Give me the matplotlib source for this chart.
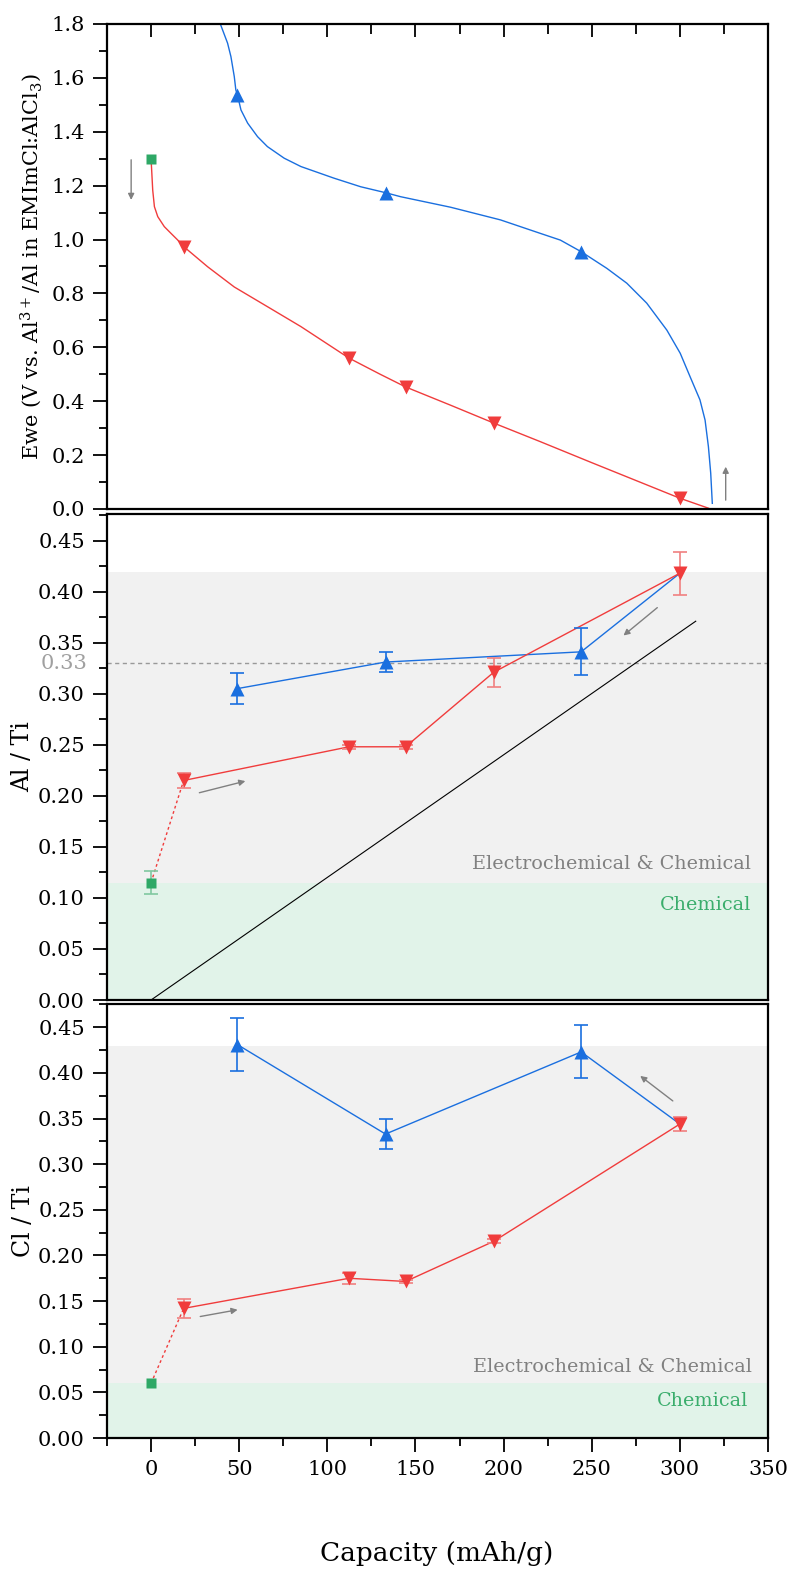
import matplotlib
matplotlib.use('Agg')
import matplotlib.pyplot as pp
from matplotlib.ticker import MultipleLocator, FormatStrFormatter

# ---- data ----
# top panel: discharge / charge curves (capacity mAh/g, Ewe V)
cap_dis = [0, 0.94, 1.9, 3.8, 7.5, 11.3, 17, 18.5, 32.1, 47.2, 66, 85, 112.3, 130, 144.4,
           170, 194.4, 220.8, 250, 300, 316.2]
ewe_dis = [1.30, 1.183, 1.122, 1.085, 1.048, 1.023, 0.986, 0.974, 0.899, 0.824, 0.751, 0.677,
           0.56, 0.50, 0.453, 0.385, 0.319, 0.25, 0.172, 0.04, 0.003]
cap_chg = [38.5, 39.3, 43.4, 45.3, 47.2, 48.1, 49, 51, 54.8, 60.4, 66, 75.5, 85, 103.7, 118.9,
           133, 141.6, 169.9, 198.2, 220.8, 232.2, 244, 258.6, 269.9, 281.2, 292.6, 300.2,
           305.8, 311.4, 314.3, 316.2, 317.5, 318.4]
ewe_chg = [1.83, 1.80, 1.729, 1.679, 1.605, 1.555, 1.537, 1.481, 1.432, 1.382, 1.345, 1.302,
           1.271, 1.228, 1.196, 1.174, 1.159, 1.12, 1.073, 1.023, 0.998, 0.955, 0.893, 0.838,
           0.764, 0.664, 0.578, 0.491, 0.405, 0.33, 0.231, 0.133, 0.021]

dis_x = [18.5, 112.3, 144.4, 194.4, 300]
chg_x = [49, 133, 244, 300]
pristine_x = [0]

ewe_dis_mark = [0.974, 0.56, 0.453, 0.319, 0.04]
ewe_chg_mark = [1.537, 1.174, 0.955]
ewe_pristine = [1.30]

# middle panel: Al / Ti
al_dis = [0.215, 0.248, 0.248, 0.321, 0.418]
al_dis_err = [0.007, 0.002, 0.002, 0.014, 0.021]
al_chg = [0.305, 0.331, 0.341, 0.418]
al_chg_err = [0.015, 0.010, 0.023, 0.0]
al_pristine = [0.115]
al_pristine_err = [0.0115]
theory_x = [0, 309]
theory_al = [0, 0.371]

# bottom panel: Cl / Ti
cl_dis = [0.142, 0.175, 0.1715, 0.2155, 0.344]
cl_dis_err = [0.0105, 0.006, 0.002, 0.002, 0.008]
cl_chg = [0.431, 0.333, 0.423, 0.344]
cl_chg_err = [0.029, 0.016, 0.029, 0.0]
cl_pristine = [0.060]

c_blue = '#1a6fdf'
c_red = '#f03c3c'
c_green = '#2ea866'
c_gray = '#808080'

pp.rcParams['font.family'] = 'DejaVu Serif'
pp.rcParams['mathtext.fontset'] = 'dejavuserif'
label_size = 15
axis_size = 17
note_size = 13.8

fig = pp.figure(figsize=(7.93, 15.78), dpi=100, facecolor='white')
W, H = 793.0, 1578.0
left = 107 / W
width = (768 - 107) / W


def axes_px(top, bottom):
    return fig.add_axes([left, 1 - bottom / H, width, (bottom - top) / H])


ax1 = axes_px(24, 509)
ax2 = axes_px(514, 1000)
ax3 = axes_px(1004, 1438)


def style(ax, ymax, ystep, yminor, fmt):
    ax.set_xlim(-25, 350)
    ax.set_ylim(0, ymax)
    for s in ax.spines.values():
        s.set_linewidth(1.6)
    ax.yaxis.set_major_locator(MultipleLocator(ystep))
    ax.yaxis.set_minor_locator(MultipleLocator(yminor))
    ax.yaxis.set_major_formatter(FormatStrFormatter(fmt))
    ax.xaxis.set_major_locator(MultipleLocator(50))
    ax.xaxis.set_minor_locator(MultipleLocator(25))
    ax.tick_params(axis='y', which='major', direction='out', length=10, width=1.3,
                   labelsize=label_size, pad=6)
    ax.tick_params(axis='y', which='minor', direction='out', length=6, width=1.3)


def arrow(ax, x0, y0, x1, y1):
    ax.annotate('', xy=(x1, y1), xytext=(x0, y0),
                arrowprops=dict(arrowstyle='-|>', color=c_gray, lw=1.0, mutation_scale=9,
                                shrinkA=0, shrinkB=0))


# ---- top: voltage profile ----
style(ax1, 1.8, 0.2, 0.1, '%.1f')
ax1.tick_params(axis='x', which='both', bottom=False, labelbottom=False, top=True,
                direction='in', width=1.3)
ax1.tick_params(axis='x', which='major', length=9)
ax1.tick_params(axis='x', which='minor', length=7)
ax1.plot(cap_chg, ewe_chg, color=c_blue, lw=1.0)
ax1.plot(cap_dis, ewe_dis, color=c_red, lw=1.0)
ax1.plot(chg_x[:3], ewe_chg_mark, '^', color=c_blue, ms=10, mec='none')
ax1.plot(dis_x, ewe_dis_mark, 'v', color=c_red, ms=10, mec='none')
ax1.plot(pristine_x, ewe_pristine, 's', color=c_green, ms=7.5, mec='none', clip_on=False)
arrow(ax1, -11.3, 1.296, -11.3, 1.147)
arrow(ax1, 326, 0.033, 326, 0.157)

# ---- middle: Al/Ti ----
style(ax2, 0.476, 0.05, 0.025, '%.2f')
ax2.tick_params(axis='x', which='both', bottom=False, top=False, labelbottom=False)
ax2.axhspan(0.115, 0.419, color='#f1f1f1', lw=0, zorder=0)
ax2.axhspan(0, 0.115, color='#e1f3e9', lw=0, zorder=0)
ax2.axhline(0.33, color='#999999', lw=1.0, ls=(0, (3, 2.5)), zorder=1)
ax2.text(-0.03, 0.33, '0.33', color='#a0a0a0', fontsize=label_size, ha='right', va='center',
         transform=ax2.get_yaxis_transform())
ax2.plot(theory_x, theory_al, color='black', lw=0.8, zorder=2)
ax2.plot([pristine_x[0], dis_x[0]], [al_pristine[0], al_dis[0]], color=c_red, lw=1.0,
         ls=(0, (2, 2)), zorder=2)
ax2.plot(chg_x, al_chg, color=c_blue, lw=1.0, zorder=3)
ax2.plot(dis_x, al_dis, color=c_red, lw=1.0, zorder=3)
ax2.errorbar(chg_x[:3], al_chg[:3], yerr=al_chg_err[:3], fmt='^', color=c_blue, ms=10, mec='none',
             ecolor=c_blue, elinewidth=1.2, capsize=5, capthick=1.2, zorder=4)
ax2.errorbar(dis_x, al_dis, yerr=al_dis_err, fmt='v', color=c_red, ms=10, mec='none',
             ecolor='#f08080', elinewidth=1.2, capsize=5, capthick=1.2, zorder=4)
ax2.errorbar(pristine_x, al_pristine, yerr=al_pristine_err, fmt='s', color=c_green, ms=7.5,
             mec='none', ecolor='#80c8a0', elinewidth=1.2, capsize=5, capthick=1.2, zorder=4)
arrow(ax2, 27.4, 0.203, 53.5, 0.2144)
arrow(ax2, 287.2, 0.3843, 268, 0.357)
ax2.text(340.6, 0.133, 'Electrochemical & Chemical', color=c_gray, fontsize=note_size,
         ha='right', va='center')
ax2.text(340.6, 0.0935, 'Chemical', color='#3aad6c', fontsize=note_size, ha='right', va='center')

# ---- bottom: Cl/Ti ----
style(ax3, 0.4755, 0.05, 0.025, '%.2f')
ax3.tick_params(axis='x', which='both', top=False, direction='out', width=1.3,
                labelsize=label_size, pad=6)
ax3.tick_params(axis='x', which='major', length=10)
ax3.tick_params(axis='x', which='minor', length=6)
ax3.axhspan(0.06, 0.43, color='#f1f1f1', lw=0, zorder=0)
ax3.axhspan(0, 0.06, color='#e1f3e9', lw=0, zorder=0)
ax3.plot([pristine_x[0], dis_x[0]], [cl_pristine[0], cl_dis[0]], color=c_red, lw=1.0,
         ls=(0, (2, 2)), zorder=2)
ax3.plot(chg_x, cl_chg, color=c_blue, lw=1.0, zorder=3)
ax3.plot(dis_x, cl_dis, color=c_red, lw=1.0, zorder=3)
ax3.errorbar(chg_x[:3], cl_chg[:3], yerr=cl_chg_err[:3], fmt='^', color=c_blue, ms=10, mec='none',
             ecolor=c_blue, elinewidth=1.2, capsize=5, capthick=1.2, zorder=4)
ax3.errorbar(dis_x, cl_dis, yerr=cl_dis_err, fmt='v', color=c_red, ms=10, mec='none',
             ecolor='#f08080', elinewidth=1.2, capsize=5, capthick=1.2, zorder=4)
ax3.plot(pristine_x, cl_pristine, 's', color=c_green, ms=7.5, mec='none', zorder=4)
arrow(ax3, 27.9, 0.1331, 49.1, 0.1405)
arrow(ax3, 296, 0.3693, 277.5, 0.3967)
ax3.text(340.9, 0.0777, 'Electrochemical & Chemical', color=c_gray, fontsize=note_size,
         ha='right', va='center')
ax3.text(338.6, 0.0408, 'Chemical', color='#3aad6c', fontsize=note_size, ha='right', va='center')

# axis labels placed at the pixel centres of the original
fig.text(31 / W, 1 - 266.5 / H, r'Ewe (V vs. Al$^{3+}$/Al in EMImCl:AlCl$_3$)',
         rotation=90, ha='center', va='center', fontsize=15)
fig.text(23 / W, 1 - 757 / H, 'Al / Ti', rotation=90, ha='center', va='center', fontsize=axis_size)
fig.text(23 / W, 1 - 1221 / H, 'Cl / Ti', rotation=90, ha='center', va='center', fontsize=axis_size)
fig.text(437 / W, 1 - 1553 / H, 'Capacity (mAh/g)', ha='center', va='center', fontsize=19)

pp.savefig('out.png', dpi=100, facecolor='white')
